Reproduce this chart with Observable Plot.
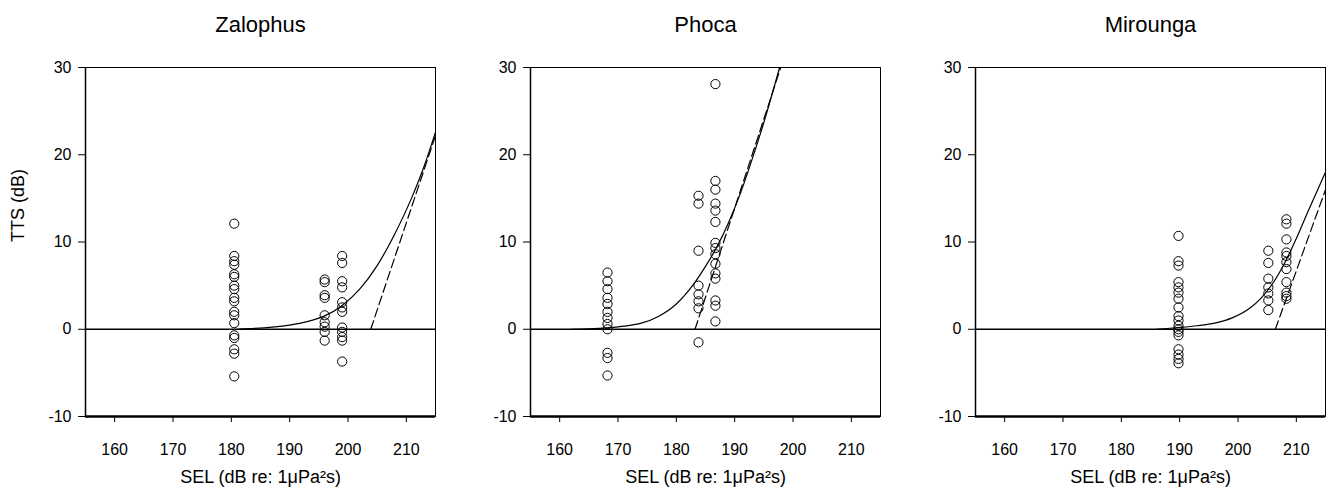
<!DOCTYPE html>
<html>
<head>
<meta charset="utf-8">
<script src="https://cdn.jsdelivr.net/npm/d3@7"></script>
<script src="https://cdn.jsdelivr.net/npm/@observablehq/plot@0.6"></script>
<style>
  html, body { margin: 0; padding: 0; background: white; }
  #wrap { display: flex; width: 1335px; height: 489px; }
  #wrap svg { display: block; }
</style>
</head>
<body>
<div id="wrap"></div>
<script>
// ---- tick labels / axis text ----
const xTicks = [160, 170, 180, 190, 200, 210];
const yTicks = [-10, 0, 10, 20, 30];
const xLabel = "SEL (dB re: 1\u03bcPa\u00b2s)";
const yLabel = "TTS (dB)";

// ---- Zalophus ----
const zalophusSEL = [180.5, 196.0, 199.0];
const zalophusTTS = [
  [12.1, 8.4, 7.8, 7.4, 6.3, 6.0, 5.0, 4.6, 3.6, 3.2, 2.0, 1.6, 0.7, -0.7, -1.0, -2.3, -2.8, -5.4],
  [5.7, 5.4, 3.9, 3.6, 1.6, 0.8, 0.3, -0.3, -1.3],
  [8.4, 7.6, 5.5, 4.8, 3.1, 2.5, 2.0, 0.2, -0.3, -0.9, -1.3, -3.7]
];
const zalophusFitSEL = [181, 184, 187, 190, 193, 196, 199, 202, 205, 208, 211, 213, 215];
const zalophusFitTTS = [0.0, 0.09, 0.24, 0.48, 0.87, 1.53, 2.73, 4.6, 7.3, 10.9, 15.2, 18.6, 22.6];
const zalophusLinSEL = [203.9, 215];
const zalophusLinTTS = [0, 22.2];

// ---- Phoca ----
const phocaSEL = [168.2, 183.8, 186.7];
const phocaTTS = [
  [6.5, 5.5, 4.6, 3.6, 2.9, 2.0, 1.3, 0.6, 0.0, -2.7, -3.3, -5.3],
  [15.3, 14.4, 9.0, 5.0, 4.0, 3.2, 2.4, -1.5],
  [28.1, 17.0, 16.0, 14.4, 13.6, 12.3, 9.9, 9.3, 8.6, 7.5, 6.4, 5.8, 3.3, 2.7, 0.9]
];
const phocaFitSEL = [162, 165, 168, 171, 174, 177, 180, 183, 185, 187, 189, 191, 193, 195, 197.7];
const phocaFitTTS = [0.0, 0.05, 0.15, 0.35, 0.7, 1.5, 2.9, 5.2, 7.2, 9.5, 12.3, 15.6, 19.5, 23.7, 30];
const phocaLinSEL = [183.2, 197.9];
const phocaLinTTS = [0, 30];

// ---- Mirounga ----
const miroungaSEL = [189.8, 205.2, 208.3];
const miroungaTTS = [
  [10.7, 7.8, 7.3, 5.4, 4.8, 4.2, 3.5, 2.5, 1.5, 1.0, 0.4, 0.0, -0.3, -0.7, -2.3, -2.9, -3.4, -3.9],
  [9.0, 7.6, 5.8, 4.8, 4.1, 3.3, 2.2],
  [12.6, 12.1, 10.3, 8.8, 8.4, 7.7, 6.9, 5.4, 4.2, 3.8, 3.5]
];
const miroungaFitSEL = [186, 190, 193, 196, 199, 202, 204, 206, 208, 210, 212, 215];
const miroungaFitTTS = [0.0, 0.2, 0.4, 0.7, 1.3, 2.4, 3.6, 5.3, 7.6, 10.4, 13.5, 18.0];
const miroungaLinSEL = [206.4, 215];
const miroungaLinTTS = [0, 16.0];

const font = "'Liberation Sans', Arial, Helvetica, sans-serif";

function panel(name, sel, tts, fitX, fitY, linX, linY, showY) {
  const pts = [];
  sel.forEach((x, i) => tts[i].forEach(y => pts.push({x, y})));
  const fit = fitX.map((x, i) => ({x, y: fitY[i]}));
  const lin = linX.map((x, i) => ({x, y: linY[i]}));
  const marks = [
    Plot.frame({stroke: "black", strokeWidth: 1}),
    Plot.ruleY([0], {stroke: "black", strokeWidth: 1.6}),
    Plot.ruleY([-10], {stroke: "black", strokeWidth: 2.5}),
    Plot.ruleX([155], {stroke: "black", strokeWidth: 1.5}),
    Plot.line(fit, {x: "x", y: "y", curve: "monotone-x", stroke: "black", strokeWidth: 1.2, clip: true}),
    Plot.line(lin, {x: "x", y: "y", stroke: "black", strokeWidth: 1.2, strokeDasharray: "9,4", clip: true}),
    Plot.dot(pts, {x: "x", y: "y", r: 4.6, stroke: "black", strokeWidth: 1, fill: "none"}),
    Plot.axisX({ticks: xTicks, tickFormat: d => String(d), tickSize: 6, tickPadding: 21, label: null, fontSize: 16}),
    Plot.axisY({ticks: yTicks, tickFormat: d => String(d), tickSize: 7, tickPadding: 7, label: null, fontSize: 16}),
    Plot.text([name], {text: d => d, frameAnchor: "top", lineAnchor: "middle", dy: -43, fontSize: 22}),
    Plot.text([xLabel], {text: d => d, frameAnchor: "bottom", lineAnchor: "middle", dy: 61, fontSize: 18})
  ];
  if (showY) marks.push(Plot.text([yLabel], {text: d => d, frameAnchor: "left", lineAnchor: "middle", dx: -67, rotate: -90, fontSize: 18}));
  return Plot.plot({
    width: 445, height: 489,
    marginLeft: 85, marginRight: 10, marginTop: 67, marginBottom: 73,
    x: {domain: [155, 215]},
    y: {domain: [-10, 30]},
    style: {fontFamily: font, fontSize: "16px", color: "black", background: "white", overflow: "visible"},
    marks
  });
}

const wrap = document.getElementById("wrap");
wrap.appendChild(panel("Zalophus", zalophusSEL, zalophusTTS, zalophusFitSEL, zalophusFitTTS, zalophusLinSEL, zalophusLinTTS, true));
wrap.appendChild(panel("Phoca", phocaSEL, phocaTTS, phocaFitSEL, phocaFitTTS, phocaLinSEL, phocaLinTTS, false));
wrap.appendChild(panel("Mirounga", miroungaSEL, miroungaTTS, miroungaFitSEL, miroungaFitTTS, miroungaLinSEL, miroungaLinTTS, false));
</script>
</body>
</html>
